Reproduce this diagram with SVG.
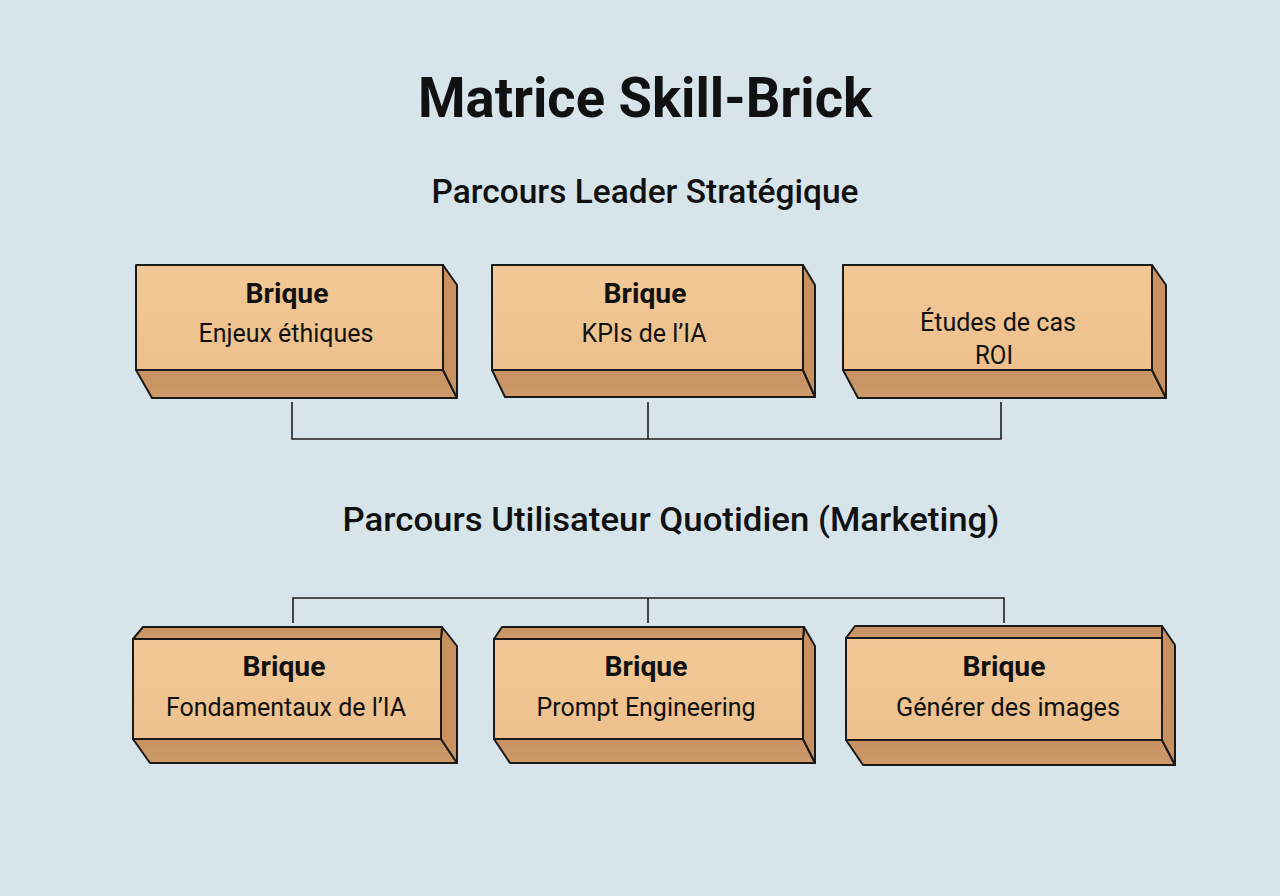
<svg xmlns="http://www.w3.org/2000/svg" width="1280" height="896" viewBox="0 0 1280 896">
  <defs>
    <linearGradient id="frontGrad" x1="0" y1="0" x2="0" y2="1">
      <stop offset="0" stop-color="#F2C996"/>
      <stop offset="1" stop-color="#EDC08D"/>
    </linearGradient>
    <linearGradient id="darkGrad" x1="0" y1="0" x2="0" y2="1">
      <stop offset="0" stop-color="#C89262"/>
      <stop offset="1" stop-color="#CD9A69"/>
    </linearGradient>
    <style>
      .front { fill: url(#frontGrad); stroke: #1a1a1a; stroke-width: 2; stroke-linejoin: round; }
      .dark { fill: url(#darkGrad); stroke: #1a1a1a; stroke-width: 2; stroke-linejoin: round; }
      .side { fill: #C8915F; stroke: #1a1a1a; stroke-width: 2; stroke-linejoin: round; }
      .title { font-family: Roboto, "Liberation Sans", sans-serif; font-weight: 700; fill: #111; text-anchor: middle; }
      .section { font-family: Roboto, "Liberation Sans", sans-serif; font-weight: 500; fill: #111; text-anchor: middle; }
      .bold { font-family: Roboto, "Liberation Sans", sans-serif; font-weight: 700; font-size: 27px; fill: #111; text-anchor: middle; }
      .label { font-family: Roboto, "Liberation Sans", sans-serif; font-weight: 400; font-size: 26px; fill: #111; text-anchor: middle; }
      .conn { fill: none; stroke: #1e1e1e; stroke-width: 1.6; }
    </style>
  </defs>

  <rect x="0" y="0" width="1280" height="896" fill="#D7E5EB"/>

  <text class="title" x="645" y="117" font-size="55" textLength="454" lengthAdjust="spacingAndGlyphs">Matrice Skill-Brick</text>
  <text class="section" x="645" y="203" font-size="34" textLength="427" lengthAdjust="spacingAndGlyphs">Parcours Leader Stratégique</text>
  <text class="section" x="671" y="531" font-size="34" textLength="657" lengthAdjust="spacingAndGlyphs">Parcours Utilisateur Quotidien (Marketing)</text>

  <g id="connectors">
    <path class="conn" d="M292 402 V439 H1001 V402 M648 402 V439"/>
    <path class="conn" d="M293 623 V598 H1004 V623 M648 598 V623"/>
  </g>

  <g id="brick-enjeux">
    <polygon class="dark" points="136,370 443,370 457,398 152,398"/>
    <polygon class="side" points="443,265 457,285 457,398 443,370"/>
    <rect class="front" x="136" y="265" width="307" height="105"/>
    <text class="bold" x="287" y="303" textLength="83" lengthAdjust="spacingAndGlyphs">Brique</text>
    <text class="label" x="286" y="342" textLength="175" lengthAdjust="spacingAndGlyphs">Enjeux éthiques</text>
  </g>

  <g id="brick-kpis">
    <polygon class="dark" points="492,370 803,370 815,397 505,397"/>
    <polygon class="side" points="803,265 815,285 815,397 803,370"/>
    <rect class="front" x="492" y="265" width="311" height="105"/>
    <text class="bold" x="645" y="303" textLength="83" lengthAdjust="spacingAndGlyphs">Brique</text>
    <text class="label" x="644" y="342" textLength="125" lengthAdjust="spacingAndGlyphs">KPIs de l’IA</text>
  </g>

  <g id="brick-roi">
    <polygon class="dark" points="843,370 1152,370 1166,398 858,398"/>
    <polygon class="side" points="1152,265 1166,285 1166,398 1152,370"/>
    <rect class="front" x="843" y="265" width="309" height="105"/>
    <text class="label" x="998" y="331" textLength="156" lengthAdjust="spacingAndGlyphs">Études de cas</text>
    <text class="label" x="994" y="364" textLength="38" lengthAdjust="spacingAndGlyphs">ROI</text>
  </g>

  <g id="brick-fondamentaux">
    <polygon class="dark" points="133,739 441,739 457,763 150,763"/>
    <polygon class="side" points="441,639 442,627 457,646 457,763 441,739"/>
    <polygon class="dark" points="133,639 143,627 442,627 441,639"/>
    <rect class="front" x="133" y="639" width="308" height="100"/>
    <text class="bold" x="284" y="676" textLength="83" lengthAdjust="spacingAndGlyphs">Brique</text>
    <text class="label" x="286" y="716" textLength="240" lengthAdjust="spacingAndGlyphs">Fondamentaux de l’IA</text>
  </g>

  <g id="brick-prompt">
    <polygon class="dark" points="494,739 803,739 815,763 510,763"/>
    <polygon class="side" points="803,639 804,627 815,646 815,763 803,739"/>
    <polygon class="dark" points="494,639 502,627 804,627 803,639"/>
    <rect class="front" x="494" y="639" width="309" height="100"/>
    <text class="bold" x="646" y="676" textLength="83" lengthAdjust="spacingAndGlyphs">Brique</text>
    <text class="label" x="646" y="716" textLength="219" lengthAdjust="spacingAndGlyphs">Prompt Engineering</text>
  </g>

  <g id="brick-images">
    <polygon class="dark" points="846,740 1162,740 1175,765 863,765"/>
    <polygon class="side" points="1162,638 1162,626 1175,645 1175,765 1162,740"/>
    <polygon class="dark" points="846,638 855,626 1162,626 1162,638"/>
    <rect class="front" x="846" y="638" width="316" height="102"/>
    <text class="bold" x="1004" y="676" textLength="83" lengthAdjust="spacingAndGlyphs">Brique</text>
    <text class="label" x="1008" y="716" textLength="224" lengthAdjust="spacingAndGlyphs">Générer des images</text>
  </g>
</svg>
